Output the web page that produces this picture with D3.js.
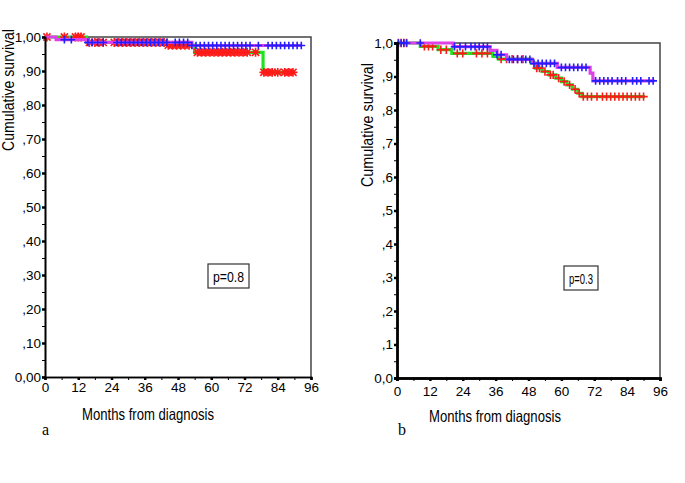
<!DOCTYPE html>
<html><head><meta charset="utf-8">
<script src="https://cdn.jsdelivr.net/npm/d3@7"></script>
<style>
body{margin:0;background:#fff;}
svg text{font-family:"Liberation Sans Narrow","Liberation Sans",Arial,sans-serif;fill:#000;}
</style></head>
<body><svg id="c" width="685" height="483"></svg>
<script>
// ---------- data ----------
const monthTicks = [0,12,24,36,48,60,72,84,96];
const monthMinor = [6,18,30,42,54,66,78,90];
const survTicks = [0,0.1,0.2,0.3,0.4,0.5,0.6,0.7,0.8,0.9,1.0];
const survMinor = [0.05,0.15,0.25,0.35,0.45,0.55,0.65,0.75,0.85,0.95];
const aYLabels = ["0,00",",10",",20",",30",",40",",50",",60",",70",",80",",90","1,00"];
const bYLabels = ["0,0",",1",",2",",3",",4",",5",",6",",7",",8",",9","1,0"];

// Panel a: group 1 (green line, red asterisks), group 2 (magenta line, blue crosses)
const aGroup1Steps = [[0,1.0],[15,0.984],[44.5,0.976],[54,0.955],[78.7,0.896]];
const aGroup1End = 90;
const aGroup1Censor = [0.7,7,11,12,13,16,18,19.5,21,25,26.5,28,29.5,31,32.5,34,35.5,37,38.5,40,41.5,43,
  44.5,46,47.5,49,50.5,52,55,56.5,58,59.5,61,62.5,64,65.5,67,68.5,70,71.5,73,76,79,80.5,82,84,86.5,88,89.5];
const aGroup2Steps = [[0,1.0],[4,0.992],[15.5,0.984],[53,0.975]];
const aGroup2End = 92.7;
const aGroup2Censor = [7,9.5,15.5,17,19,21,26,27.5,29,30.5,32,33.5,35,36.5,38,39.5,41,42.5,44,47,48.5,50,51.5,53,
  54.5,56,57.5,59,60.5,62,63.5,65,66.5,68,69.5,71,72.5,74,77,80.5,82,83.5,85,86.5,88,89.5,91,92.5];
const aPText = "p=0.8";

// Panel b
const bGroup1Steps = [[0,1],[8.5,0.99],[15,0.98],[20,0.969],[35,0.96],[37,0.952],[49,0.94],[50.5,0.925],[53,0.915],
  [55.5,0.905],[58,0.895],[60,0.885],[62,0.875],[64,0.862],[66,0.85],[67.5,0.84]];
const bGroup1End = 90.5;
const bGroup1Censor = [0.5,1.5,2.5,3.5,10,11.5,13,16,18,22,24,29,31,33,38,40,42,44,46,51,52,54,56,57,59,61,63,65,66.5,
  68,69.5,71,73,75,76.5,78,79.5,81,82.5,84,85.5,87,88.5,90];
const bGroup2Steps = [[0,1],[20.5,0.989],[34,0.978],[36.5,0.965],[40,0.951],[49.5,0.939],[58.5,0.927],[70.5,0.91],[71.5,0.887]];
const bGroup2End = 94;
const bGroup2Censor = [0.5,1.5,2.5,3.5,8.5,21,23,25,27,28.5,30,31.5,33,36.5,38,41,42.5,44,45.5,47,48.5,50,51.5,53,54.5,56,57.5,
  60,61.5,63,64.5,66,67.5,69,72.5,74,75.5,77,78.5,80.5,82,83.5,86,87.5,89,92,93.5];
const bPText = "p=0.3";

// ---------- drawing ----------
const svg = d3.select("#c");
svg.append("rect").attr("width",685).attr("height",483).attr("fill","#fff");

const plusSym = {draw(ctx,size){const r=Math.sqrt(size)/2;ctx.moveTo(-r,0);ctx.lineTo(r,0);ctx.moveTo(0,-r);ctx.lineTo(0,r);}};
const starSym = {draw(ctx,size){const r=Math.sqrt(size)/2;ctx.moveTo(-r,0);ctx.lineTo(r,0);ctx.moveTo(0,-r);ctx.lineTo(0,r);
  const q=r*0.8;ctx.moveTo(-q,-q);ctx.lineTo(q,q);ctx.moveTo(-q,q);ctx.lineTo(q,-q);}};

function survAt(steps,t){let v=steps[0][1];for(const s of steps){if(s[0]<=t)v=s[1];}return v;}

function panel(o){
  const g = svg.append("g");
  const x = d3.scaleLinear().domain([0,96]).range(o.xr);
  const y = d3.scaleLinear().domain([0,1]).range(o.yr);
  // frame top/right
  g.append("path").attr("d",`M${x(0)},${y(1)}H${x(96)}V${y(0)}`).attr("fill","none").attr("stroke","#444").attr("stroke-width",1.5);

  const line = d3.line().x(d=>x(d[0])).y(d=>y(d[1])).curve(d3.curveStepAfter);
  function curve(steps,end,col,censor,sym,mcol,msize){
    const pts = steps.concat([[end,steps[steps.length-1][1]]]);
    g.append("path").attr("d",line(pts)).attr("fill","none").attr("stroke",col).attr("stroke-width",3.2);
    const s = d3.symbol().type(sym).size(msize);
    g.selectAll(null).data(censor).join("path")
      .attr("transform",t=>`translate(${x(t)},${y(survAt(steps,t))})`)
      .attr("d",s()).attr("fill","none").attr("stroke",mcol).attr("stroke-width",1.6);
  }
  curve(o.g1s,o.g1e,"#22e022",o.g1c,o.g1sym,"#ff1a1a",o.g1size);
  curve(o.g2s,o.g2e,"#e040e8",o.g2c,plusSym,"#2020ff",60);

  // axes
  const yAx = g.append("g").attr("transform",`translate(${x(0)},0)`)
    .call(d3.axisLeft(y).tickValues(survTicks).tickSize(3).tickFormat((d,i)=>o.ylab[i]));
  const yMin = g.append("g").attr("transform",`translate(${x(0)},0)`)
    .call(d3.axisLeft(y).tickValues(survMinor).tickSize(3).tickFormat(""));
  const xAx = g.append("g").attr("transform",`translate(0,${y(0)})`)
    .call(d3.axisBottom(x).tickValues(monthTicks).tickSize(3).tickFormat(d3.format("d")));
  const xMin = g.append("g").attr("transform",`translate(0,${y(0)})`)
    .call(d3.axisBottom(x).tickValues(monthMinor).tickSize(3).tickFormat(""));
  [yAx,yMin,xAx,xMin].forEach(a=>{a.select(".domain").attr("stroke","#000").attr("stroke-width",o.axw);});
  [yAx,xAx].forEach(a=>a.selectAll(".tick line").attr("stroke-width",2.5));
  [yMin,xMin].forEach(a=>a.selectAll(".tick line").attr("stroke-width",1));
  yAx.selectAll("text").attr("font-size",13.5).attr("x",-4);
  xAx.selectAll("text").attr("font-size",13.5).attr("dy","0.71em").attr("y",o.xty);
  [yAx,yMin,xAx,xMin].forEach(a=>a.attr("font-family",null));

  // titles
  g.append("text").attr("transform",`translate(${o.ytx},${o.yty}) rotate(-90)`).attr("text-anchor","middle")
    .attr("font-size",16.5).attr("textLength",o.ylen).attr("lengthAdjust","spacingAndGlyphs").text("Cumulative survival");
  g.append("text").attr("x",o.xtx).attr("y",o.xtyy).attr("font-size",16.5).attr("textLength",132)
    .attr("lengthAdjust","spacingAndGlyphs").text("Months from  diagnosis");
  g.append("text").attr("x",o.lx).attr("y",435).attr("font-size",16)
    .style("font-family","'Liberation Serif','Times New Roman',serif").text(o.letter);
  // p box
  g.append("rect").attr("x",o.pb[0]).attr("y",o.pb[1]).attr("width",o.pb[2]).attr("height",o.pb[3])
    .attr("fill","#fff").attr("stroke","#333").attr("stroke-width",1.2);
  g.append("text").attr("x",o.pb[0]+o.pb[2]/2).attr("y",o.pb[1]+o.pb[3]/2+5.5).attr("text-anchor","middle")
    .attr("font-size",15).attr("textLength",o.pb[2]-10).attr("lengthAdjust","spacingAndGlyphs").text(o.ptext);
}

panel({xr:[45,311],yr:[377,37],axw:1.6,ylab:aYLabels,g1s:aGroup1Steps,g1e:aGroup1End,g1c:aGroup1Censor,g1sym:starSym,g1size:80,
  g2s:aGroup2Steps,g2e:aGroup2End,g2c:aGroup2Censor,xty:5,ytx:14,yty:90,ylen:122,xtx:82,xtyy:420,lx:42,letter:"a",
  pb:[208,264,41,24],ptext:aPText});
panel({xr:[397,660],yr:[378,43],axw:2.4,ylab:bYLabels,g1s:bGroup1Steps,g1e:bGroup1End,g1c:bGroup1Censor,g1sym:plusSym,g1size:70,
  g2s:bGroup2Steps,g2e:bGroup2End,g2c:bGroup2Censor,xty:8,ytx:373,yty:125,ylen:124,xtx:429,xtyy:422,lx:398,letter:"b",
  pb:[564,266,34,24],ptext:bPText});
</script></body></html>
